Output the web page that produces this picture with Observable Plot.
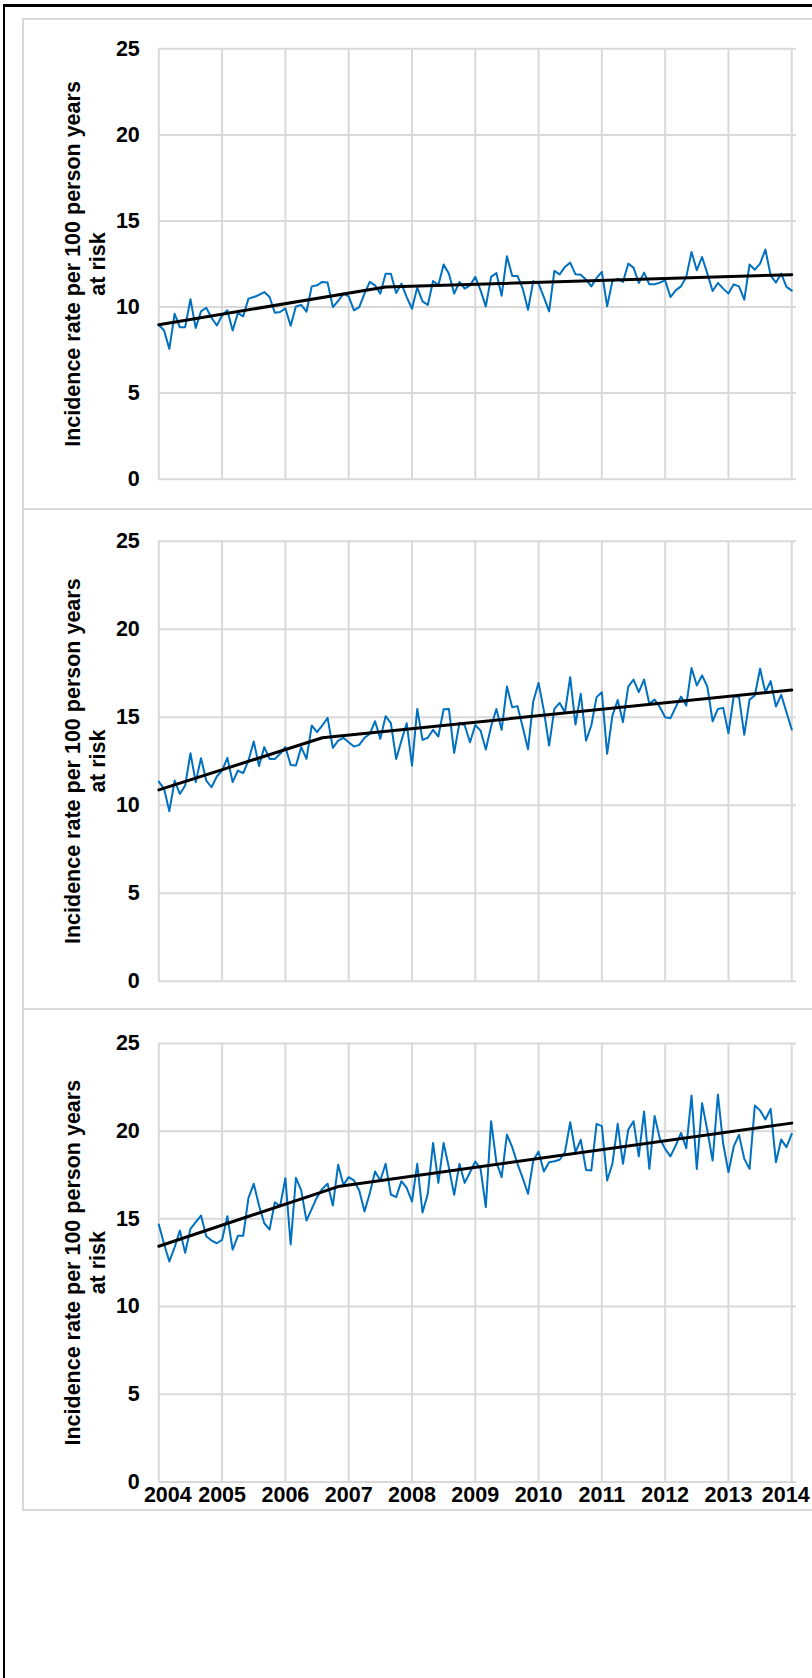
<!DOCTYPE html>
<html><head><meta charset="utf-8">
<script src="https://cdn.jsdelivr.net/npm/d3@7"></script>
<script src="https://cdn.jsdelivr.net/npm/@observablehq/plot@0.6"></script>
<style>
html,body{margin:0;padding:0;background:#fff;overflow:hidden;}
#wrap{position:relative;width:812px;height:1678px;overflow:hidden;background:#fff;font-family:"Liberation Sans",Arial,sans-serif;}
.blk{position:absolute;background:#000;}
.panel{position:absolute;left:22px;width:830px;box-sizing:border-box;border:2px solid #d9d9d9;}
.chart{position:absolute;left:0;}
</style></head>
<body>
<div id="wrap">
  <div class="panel" style="top:18px;height:492px;"></div>
  <div class="panel" style="top:508px;height:502px;"></div>
  <div class="panel" style="top:1008px;height:503px;"></div>
  <div class="blk" style="left:3px;top:4px;width:809px;height:3px;"></div>
  <div class="blk" style="left:3px;top:4px;width:2px;height:1674px;"></div>
  <div class="chart" id="c1" style="top:20px;"></div>
  <div class="chart" id="c2" style="top:511px;"></div>
  <div class="chart" id="c3" style="top:1011px;"></div>
</div>
<script>
const yearLabels = ["2004","2005","2006","2007","2008","2009","2010","2011","2012","2013","2014"];
const yTicks = [0, 5, 10, 15, 20, 25];
const yTitle = "Incidence rate per 100 person years\nat risk";

// Monthly incidence rates, Jan 2004 - Jan 2014
const seriesA = [8.97,8.64,7.57,9.61,8.82,8.83,10.45,8.78,9.75,9.96,
  9.38,8.93,9.51,9.81,8.64,9.65,9.46,10.49,10.58,10.70,
  10.87,10.58,9.67,9.71,9.92,8.91,10.04,10.12,9.73,11.20,
  11.26,11.46,11.42,10.0,10.35,10.78,10.62,9.81,10.0,10.78,
  11.46,11.26,10.78,11.94,11.94,10.82,11.36,10.58,9.90,11.13,
  10.33,10.12,11.51,11.26,12.47,11.94,10.78,11.46,11.07,11.26,
  11.75,10.97,10.04,11.75,11.98,10.66,12.95,11.81,11.81,11.07,
  9.84,11.51,11.36,10.58,9.75,12.10,11.90,12.33,12.58,11.90,
  11.88,11.59,11.20,11.69,12.04,10.04,11.51,11.65,11.46,12.52,
  12.29,11.40,12.0,11.32,11.32,11.42,11.55,10.58,10.97,11.20,
  11.75,13.20,12.14,12.91,11.94,10.93,11.40,11.07,10.78,11.32,
  11.20,10.43,12.47,12.17,12.52,13.34,11.84,11.42,11.94,11.17,
  10.95];
const seriesB = [11.34,10.93,9.66,11.40,10.64,11.12,12.95,11.31,12.67,11.40,
  11.02,11.63,11.97,12.69,11.31,11.97,11.82,12.54,13.62,12.23,
  13.30,12.63,12.63,12.92,13.31,12.29,12.25,13.30,12.63,14.53,
  14.15,14.53,14.96,13.26,13.67,13.83,13.58,13.33,13.43,13.83,
  14.05,14.77,13.77,15.06,14.66,12.63,13.67,14.66,12.25,15.47,
  13.71,13.83,14.28,13.90,15.45,15.47,12.97,14.68,14.53,13.58,
  14.56,14.24,13.16,14.47,15.47,14.28,16.74,15.57,15.63,14.43,
  13.18,15.91,16.95,15.38,13.39,15.47,15.81,15.28,17.27,14.58,
  16.33,13.67,14.53,16.14,16.42,12.92,15.09,15.98,14.72,16.74,
  17.14,16.42,17.14,15.76,16.00,15.57,15.0,14.94,15.57,16.17,
  15.66,17.80,16.80,17.37,16.74,14.77,15.47,15.53,14.09,16.19,
  16.14,14.0,16.0,16.23,17.75,16.42,17.05,15.61,16.27,15.28,
  14.30];
const seriesC = [14.68,13.57,12.57,13.38,14.33,13.06,14.43,14.81,15.19,14.01,
  13.76,13.61,13.80,15.15,13.25,14.03,14.03,16.20,17.0,15.76,
  14.75,14.39,15.95,15.72,17.32,13.54,17.34,16.62,14.90,15.57,
  16.24,16.71,17.0,15.76,18.08,16.94,17.38,17.19,16.62,15.42,
  16.46,17.70,17.19,18.14,16.39,16.24,17.15,16.77,15.99,18.14,
  15.36,16.43,19.33,17.05,19.33,17.91,16.37,18.14,17.05,17.66,
  18.27,17.85,15.67,20.57,18.23,17.38,19.81,19.09,18.14,17.32,
  16.43,18.33,18.84,17.70,18.23,18.29,18.37,18.80,20.51,18.80,
  19.51,17.79,17.76,20.42,20.29,17.19,18.14,20.42,18.14,20.08,
  20.57,18.56,21.12,17.85,20.86,19.56,18.99,18.56,19.18,19.90,
  19.03,22.03,17.85,21.60,20.04,18.33,22.09,19.28,17.66,19.13,
  19.79,18.42,17.85,21.46,21.18,20.67,21.27,18.23,19.52,19.09,
  19.85];

// Joinpoint trend lines: knot month index and fitted value
const trendIdxA = [0, 43, 120];
const trendValA = [8.97, 11.17, 11.88];
const trendIdxB = [0, 31, 120];
const trendValB = [10.87, 13.83, 16.55];
const trendIdxC = [0, 34, 120];
const trendValC = [13.44, 16.84, 20.46];

const FONT = '"Liberation Sans", Arial, sans-serif';
const yearIdx = yearLabels.map((_, k) => k * 12);

function xAxisPart(ticks, dx) {
  return Plot.axisX({ticks, tickFormat: d => yearLabels[Math.round(d / 12)], tickSize: 0, tickPadding: 5, dx, label: null, fontSize: 21.5, fontWeight: "bold", fill: "black"});
}

function makeChart(values, tIdx, tVal, cfg) {
  const pts = values.map((v, i) => ({i, v}));
  const trend = tIdx.map((t, k) => ({i: t, v: tVal[k]}));
  const marks = [
    Plot.gridY(yTicks, {stroke: "#d9d9d9", strokeOpacity: 1, strokeWidth: 2}),
    Plot.gridX(yearIdx, {stroke: "#d9d9d9", strokeOpacity: 1, strokeWidth: 2}),
    Plot.axisY({ticks: yTicks, tickSize: 0, tickPadding: 19, label: null, fontSize: 21.5, fontWeight: "bold", fill: "black"}),
    Plot.text([yTitle], {frameAnchor: "left", dx: -74.5, rotate: -90, textAnchor: "middle", lineAnchor: "middle", lineHeight: 1.2, fontSize: 21.5, fontWeight: "bold", fill: "black"}),
    Plot.line(pts, {x: "i", y: "v", stroke: "#0070c0", strokeWidth: 2, strokeLinejoin: "round"}),
    Plot.line(trend, {x: "i", y: "v", stroke: "#000000", strokeWidth: 3, strokeLinejoin: "round"})
  ];
  if (cfg.xLabels) {
    const n = yearIdx.length;
    marks.push(xAxisPart([yearIdx[0]], 9));
    marks.push(xAxisPart(yearIdx.slice(1, n - 1), 0));
    marks.push(xAxisPart([yearIdx[n - 1]], -6));
  }
  return Plot.plot({
    width: 812,
    height: cfg.height,
    marginLeft: 158.3,
    marginRight: 16,
    marginTop: cfg.mt,
    marginBottom: cfg.mb,
    x: {domain: [0, 120.9], axis: cfg.xLabels ? undefined : null},
    y: {domain: [0, 25]},
    style: {fontFamily: FONT, fontSize: "21.5px", fontWeight: "bold", color: "black", background: "transparent", overflow: "visible"},
    marks
  });
}

document.getElementById("c1").appendChild(makeChart(seriesA, trendIdxA, trendValA, {height: 480, mt: 28.3, mb: 21.3, xLabels: false}));
document.getElementById("c2").appendChild(makeChart(seriesB, trendIdxB, trendValB, {height: 490, mt: 29.7, mb: 20.3, xLabels: false}));
document.getElementById("c3").appendChild(makeChart(seriesC, trendIdxC, trendValC, {height: 496, mt: 32, mb: 25.6, xLabels: true}));
</script>
</body></html>
